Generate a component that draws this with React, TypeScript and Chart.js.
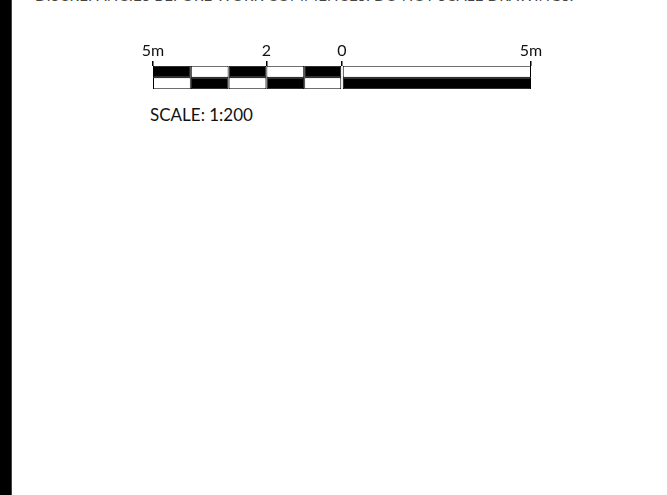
import React, { useEffect, useRef } from "react";
import { Chart, registerables } from "chart.js";

Chart.register(...registerables);

const rows = ["top", "bottom"];
const segmentStarts = [-5, -4, -3, -2, -1, 0];
const segmentEnds = [-4, -3, -2, -1, 0, 5];
const topColors = ["#000000", "#ffffff", "#000000", "#ffffff", "#000000", "#ffffff"];
const bottomColors = ["#ffffff", "#000000", "#ffffff", "#000000", "#ffffff", "#000000"];
const tickValues = [-5, -2, 0, 5];
const tickLabels = ["5m", "2", "0", "5m"];
const topNote = "DISCREPANCIES BEFORE WORK COMMENCES. DO NOT SCALE DRAWINGS.";
const scaleNote = "SCALE: 1:200";

export default function App() {
  const ref = useRef<HTMLCanvasElement | null>(null);

  useEffect(() => {
    if (!ref.current) return;
    const datasets = segmentStarts.map((s, i) => ({
      label: "seg" + i,
      data: rows.map(() => [s, segmentEnds[i]]),
      backgroundColor: [topColors[i], bottomColors[i]],
      borderColor: "#000000",
      borderWidth: 1,
      borderSkipped: false as const,
      categoryPercentage: 1,
      barPercentage: 1.05,
      grouped: false,
    }));
    const chart = new Chart(ref.current, {
      type: "bar",
      data: { labels: rows, datasets: datasets as any },
      options: {
        indexAxis: "y",
        animation: false,
        responsive: false,
        maintainAspectRatio: false,
        layout: { padding: { left: 153, right: 136, top: 40, bottom: 11 } },
        plugins: { legend: { display: false }, tooltip: { enabled: false } },
        scales: {
          y: { type: "category", display: false, offset: true },
          x: {
            type: "linear",
            position: "top",
            min: -5,
            max: 5,
            afterBuildTicks: (scale: any) => {
              scale.ticks = tickValues.map((v) => ({ value: v }));
            },
            afterFit: (scale: any) => {
              scale.height = 26;
            },
            grid: {
              drawOnChartArea: false,
              drawTicks: true,
              tickLength: 5,
              color: "#000000",
              lineWidth: 1.5,
            },
            border: { display: false },
            ticks: {
              padding: 1,
              color: "#111111",
              maxRotation: 0,
              autoSkip: false,
              font: { family: "Lato", size: 16 },
              callback: (v: any) => {
                const idx = tickValues.indexOf(Number(v));
                return idx >= 0 ? tickLabels[idx] : "";
              },
            },
          },
        },
      },
    });
    return () => chart.destroy();
  }, []);

  return (
    <div style={{ position: "fixed", left: 0, top: 0, width: 667, height: 495, background: "#ffffff", overflow: "hidden" }}>
      <div style={{ position: "absolute", left: 0, top: 0, width: 11, height: 495, background: "#000000", borderRight: "1px solid #444" }} />
      <div
        style={{
          position: "absolute",
          left: 35,
          top: -13,
          fontFamily: "Lato",
          fontSize: 15,
          letterSpacing: "0.2px",
          lineHeight: "16px",
          color: "#444",
          whiteSpace: "nowrap",
        }}
      >
        {topNote}
      </div>
      <canvas ref={ref} width={667} height={100} style={{ position: "absolute", left: 0, top: 0, width: 667, height: 100 }} />
      <div
        style={{
          position: "absolute",
          left: 150,
          top: 106,
          fontFamily: "Lato",
          fontSize: 17,
          lineHeight: "17px",
          color: "#111",
          whiteSpace: "nowrap",
        }}
      >
        {scaleNote}
      </div>
    </div>
  );
}
